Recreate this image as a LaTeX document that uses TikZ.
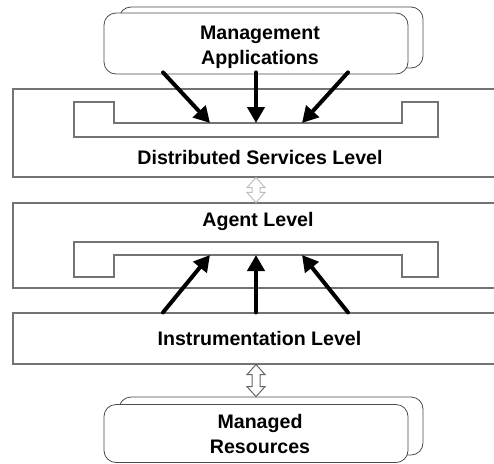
\documentclass[tikz,border=0pt]{standalone}
\usepackage{fontspec}
\setmainfont{Liberation Sans}
\usetikzlibrary{calc,arrows.meta}

\newcommand\hollowarrow[3]{%
  \draw[#3, line width=1pt, fill=white, line join=miter]
    let \p1 = (#1), \p2 = (#2) in
    (\x1,\y1) -- (\x1+9pt,\y1-10pt) -- (\x1+4pt,\y1-10pt) -- (\x1+4pt,\y2+10pt)
    -- (\x1+9pt,\y2+10pt) -- (\x1,\y2) -- (\x1-9pt,\y2+10pt) -- (\x1-4pt,\y2+10pt)
    -- (\x1-4pt,\y1-10pt) -- (\x1-9pt,\y1-10pt) -- cycle;
}

\begin{document}
\begin{tikzpicture}[x=1pt, y=-1pt,
    txt/.style={font=\bfseries\fontsize{19.6}{25}\selectfont, align=center, inner sep=0pt},
    level/.style={draw=black!55, line width=1.1pt, minimum width=486pt, inner sep=0pt},
    app/.style={draw=black!70, line width=0.8pt, fill=white, rounded corners=12pt,
      minimum width=304pt, inner sep=0pt},
    bracket/.style={draw=black!55, line width=1.1pt},
    bigarrow/.style={line width=4pt, line cap=round,
      -{Triangle[length=16pt, width=17pt]}}]
  \clip (0,0) rectangle (494,463);
  \fill[white] (0,0) rectangle (494,463);

  \node[level, minimum height=88pt] (dist) at (256,133) {};
  \node[level, minimum height=85pt] (agent) at (256,245.5) {};
  \node[level, minimum height=51pt] (instr) at (256,338.5) {};

  \node[txt] (distname) at (260,157) {Distributed Services Level};
  \node[txt] (agentname) at (258,221) {Agent Level};
  \node[txt] (instrname) at (259.5,338) {Instrumentation Level};

  \draw[bracket] (74,102) -- (114,102) -- (114,123) -- (402,123) -- (402,102)
    -- (438,102) -- (438,137) -- (74,137) -- cycle;
  \draw[bracket] (74,242) -- (438,242) -- (438,277) -- (402,277) -- (402,255)
    -- (114,255) -- (114,277) -- (74,277) -- cycle;
  \coordinate (dnotch) at (256,123);
  \coordinate (anotch) at (256,255);

  \node[app, minimum height=61pt] (mgmtback) at (271,37.5) {};
  \node[app, minimum height=61pt] (mgmt) at (256,43.5) {};
  \node[txt] (mgmtname) at (260,47) {Management\\Applications};

  \node[app, minimum height=58pt] (resback) at (271,426) {};
  \node[app, minimum height=58pt] (res) at (256,433.5) {};
  \node[txt] (resname) at (260,434) {Managed\\Resources};

  \foreach \dx/\tx in {-93/-46, 0/0, 92/46} {
    \draw[bigarrow] ([xshift=\dx pt, yshift=2pt]mgmt.south) -- ([xshift=\tx pt]dnotch);
    \draw[bigarrow] ([xshift=\dx pt]instr.north) -- ([xshift=\tx pt]anotch);
  }

  \hollowarrow{dist.south}{agent.north}{black!25}
  \hollowarrow{instr.south}{resback.north}{black!60}
\end{tikzpicture}
\end{document}
